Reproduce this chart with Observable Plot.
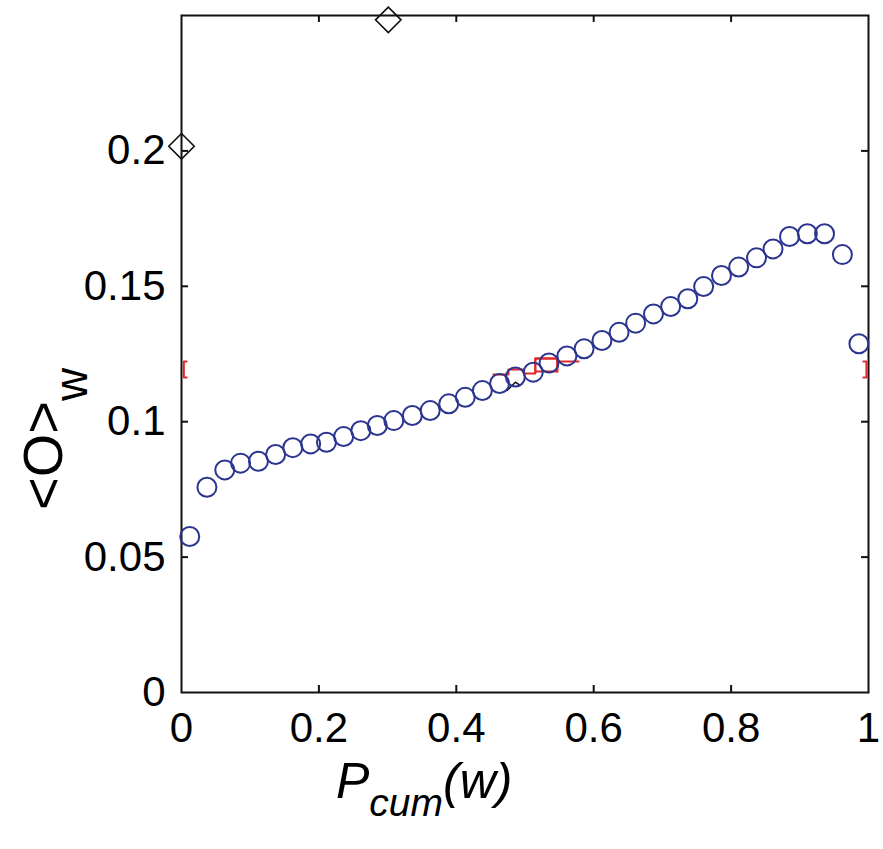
<!DOCTYPE html>
<html>
<head>
<meta charset="utf-8">
<script src="https://cdn.jsdelivr.net/npm/d3@7"></script>
<script src="https://cdn.jsdelivr.net/npm/@observablehq/plot@0.6"></script>
<style>
  html, body { margin: 0; padding: 0; background: white; }
  #chart svg { display: block; }
</style>
</head>
<body>
<div id="chart"></div>
<script>
// ---- data ----
const xTicks = [0, 0.2, 0.4, 0.6, 0.8, 1];
const xTickLabels = ["0", "0.2", "0.4", "0.6", "0.8", "1"];
const yTicks = [0, 0.05, 0.1, 0.15, 0.2];
const yTickLabels = ["0", "0.05", "0.1", "0.15", "0.2"];

// blue open circles
const circleX = [0.012, 0.037, 0.063, 0.086, 0.112, 0.137, 0.162, 0.188, 0.211, 0.236,
                 0.261, 0.285, 0.309, 0.336, 0.362, 0.389, 0.413, 0.438, 0.463, 0.486,
                 0.512, 0.535, 0.561, 0.586, 0.612, 0.637, 0.661, 0.687, 0.712, 0.737,
                 0.760, 0.786, 0.811, 0.837, 0.861, 0.885, 0.911, 0.936, 0.962, 0.986];
const circleY = [0.0576, 0.0758, 0.0822, 0.0847, 0.0854, 0.0879, 0.0904, 0.0918, 0.0924, 0.0945,
                 0.0967, 0.0986, 0.1004, 0.1023, 0.1041, 0.1066, 0.1090, 0.1115, 0.1141, 0.1165,
                 0.1183, 0.1217, 0.1243, 0.1269, 0.1300, 0.1330, 0.1364, 0.1398, 0.1425, 0.1454,
                 0.1499, 0.1540, 0.1571, 0.1605, 0.1638, 0.1684, 0.1694, 0.1694, 0.1617, 0.1288];

// black open diamonds
const diamondX = [0.0, 0.301];
const diamondY = [0.2017, 0.2484];

// small black broken marker
const blackX = [0.474, 0.486, 0.493];
const blackY = [0.1115, 0.1146, 0.1134];

// red staircase pieces (segment id, x, y)
const redSeg = [0, 0, 0, 0, 0, 0, 0, 0, 0, 0, 0, 1, 1, 1, 1, 1, 2, 2];
const redX   = [0.454, 0.476, 0.476, 0.498, 0.498, 0.515, 0.515, 0.547, 0.547, 0.515, 0.515,
                0.515, 0.515, 0.547, 0.547, 0.547, 0.547, 0.578];
const redY   = [0.1174, 0.1174, 0.1193, 0.1193, 0.1178, 0.1178, 0.1185, 0.1185, 0.1233, 0.1233, 0.1185,
                0.1185, 0.1233, 0.1233, 0.1185, 0.1185, 0.1222, 0.1222];

// red brackets at the frame edges
const bracketSeg = [0, 0, 0, 0, 1, 1, 1, 1];
const bracketX = [0.0075, 0.0034, 0.0034, 0.0075, 0.9925, 0.997, 0.997, 0.9925];
const bracketY = [0.1222, 0.1222, 0.1163, 0.1163, 0.1222, 0.1222, 0.1163, 0.1163];

// ---- build tables ----
const circles = circleX.map((x, i) => ({x, y: circleY[i]}));
const diamonds = diamondX.map((x, i) => ({x, y: diamondY[i]}));
const blackPts = blackX.map((x, i) => ({x, y: blackY[i]}));
const redPts = redX.map((x, i) => ({x, y: redY[i], z: redSeg[i]}));
const bracketPts = bracketX.map((x, i) => ({x, y: bracketY[i], z: bracketSeg[i]}));
const xTickData = xTicks.map((v, i) => ({v, label: xTickLabels[i]}));
const yTickData = yTicks.map((v, i) => ({v, label: yTickLabels[i]}));
const innerX = xTicks.filter(v => v > 0 && v < 1);
const innerY = yTicks.filter(v => v > 0 && v < 0.25);

const W = 883, H = 849, mL = 181, mR = 15, mT = 15, mB = 157;
const innerW = W - mL - mR, innerH = H - mT - mB;
const tick = 7;
const fontFamily = "'Liberation Sans', Arial, Helvetica, sans-serif";
const tickFont = 42;

const chart = Plot.plot({
  width: W,
  height: H,
  marginLeft: mL,
  marginRight: mR,
  marginTop: mT,
  marginBottom: mB,
  x: {domain: [0, 1], axis: null},
  y: {domain: [0, 0.25], axis: null},
  style: {fontFamily, background: "white", overflow: "visible"},
  marks: [
    // inward ticks on all four sides
    Plot.ruleX(innerX, {x: d => d, stroke: "#111", strokeWidth: 2, insetTop: innerH - tick}),
    Plot.ruleX(innerX, {x: d => d, stroke: "#111", strokeWidth: 2, insetBottom: innerH - tick}),
    Plot.ruleY(innerY, {y: d => d, stroke: "#111", strokeWidth: 2, insetRight: innerW - tick}),
    Plot.ruleY(innerY, {y: d => d, stroke: "#111", strokeWidth: 2, insetLeft: innerW - tick}),
    Plot.frame({stroke: "#111", strokeWidth: 2}),
    // tick labels
    Plot.text(xTickData, {x: "v", text: "label", frameAnchor: "bottom", lineAnchor: "top",
      dy: 20, fontSize: tickFont, fill: "black"}),
    Plot.text(yTickData, {y: "v", text: "label", frameAnchor: "left", textAnchor: "end",
      dx: -16, fontSize: tickFont, fill: "black"}),
    // data
    Plot.line(redPts, {x: "x", y: "y", z: "z", stroke: "#e0282a", strokeWidth: 2}),
    Plot.line(bracketPts, {x: "x", y: "y", z: "z", stroke: "#e0282a", strokeWidth: 2}),
    Plot.line(blackPts, {x: "x", y: "y", stroke: "#111", strokeWidth: 1.5}),
    Plot.dot(circles, {x: "x", y: "y", r: 9.5, stroke: "#2b3590", strokeWidth: 2, fill: "none"}),
    Plot.dot(diamonds, {x: "x", y: "y", symbol: "diamond2", r: 11.5, stroke: "#111", strokeWidth: 1.6, fill: "none"})
  ]
});

document.getElementById("chart").appendChild(chart);

// axis titles with subscript parts
const svg = d3.select(chart);
const xl = svg.append("text")
  .attr("x", 336).attr("y", 798)
  .attr("text-anchor", "start")
  .attr("font-family", fontFamily).attr("font-style", "italic")
  .attr("fill", "black");
xl.append("tspan").attr("font-size", 50).text("P");
xl.append("tspan").attr("font-size", 39).attr("dy", 18).text("cum");
xl.append("tspan").attr("font-size", 50).attr("dy", -18).text("(w)");

const yl = svg.append("text")
  .attr("transform", "translate(62,510) rotate(-90)")
  .attr("text-anchor", "start")
  .attr("font-family", fontFamily)
  .attr("fill", "black");
yl.append("tspan").attr("font-size", 56).text("<O>");
yl.append("tspan").attr("font-size", 46).attr("dy", 25).text("w");
</script>
</body>
</html>
